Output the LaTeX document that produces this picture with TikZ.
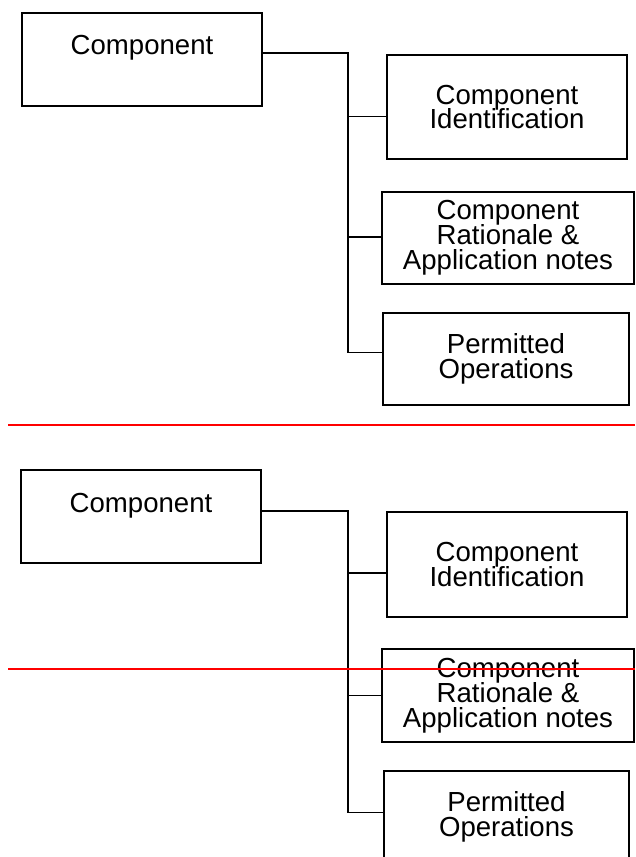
\documentclass[tikz,border=0pt]{standalone}
\usepackage{fontspec}
\setmainfont{Liberation Sans}
\usetikzlibrary{calc}
\lineskiplimit=-6pt

\begin{document}
\begin{tikzpicture}[
  x=0.02cm, y=0.02cm,
  font=\fontsize{15.7pt}{14.2pt}\selectfont,
  box/.style={draw, line width=1pt, inner sep=0pt, align=center},
  head/.style={box, text width=4.8cm, text height=0.84cm, text depth=1.02cm},
  link/.style={line width=0.8pt},
  cut/.style={draw=red, line width=1.5pt}
]
\useasboundingbox (0,0) rectangle (635,-857);
\clip (0,0) rectangle (635,-857);
% upper copy
\node[head] (comp) at (142,-59.5) {Component};
\node[box, minimum width=4.8cm, minimum height=2.08cm] (ident) at (507,-107)
  {Component\\Identification};
\node[box, minimum width=5.04cm, minimum height=1.84cm] (rat) at (508,-238)
  {Component\\Rationale \&\\Application notes};
\node[box, minimum width=4.92cm, minimum height=1.84cm] (perm) at (506,-359)
  {Permitted\\Operations};
\coordinate (trunk) at (348,0);
\coordinate (compout) at ($(comp.north east)!0.43!(comp.south east)$);
\coordinate (identin) at ($(ident.north west)!0.59!(ident.south west)$);
\coordinate (ratin) at ($(rat.north west)!0.49!(rat.south west)$);
\coordinate (permin) at ($(perm.north west)!0.43!(perm.south west)$);
\draw[link] (compout) -| (trunk |- permin) -- (permin);
\draw[link] (trunk |- identin) -- (identin);
\draw[link] (trunk |- ratin) -- (ratin);
\draw[cut] (8,-425) -- (635,-425);
% lower copy
\node[head] (comp2) at (141,-516.5) {Component};
\node[box, minimum width=4.8cm, minimum height=2.1cm] (ident2) at (507,-564.5)
  {Component\\Identification};
\node[box, minimum width=5.04cm, minimum height=1.86cm] (rat2) at (508,-695.5)
  {Component\\Rationale \&\\Application notes};
\node[box, minimum width=4.9cm, minimum height=1.84cm] (perm2) at (506.5,-817)
  {Permitted\\Operations};
\coordinate (trunk2) at (348,0);
\coordinate (compout2) at ($(comp2.north east)!0.44!(comp2.south east)$);
\coordinate (identin2) at ($(ident2.north west)!0.58!(ident2.south west)$);
\coordinate (ratin2) at ($(rat2.north west)!0.5!(rat2.south west)$);
\coordinate (permin2) at ($(perm2.north west)!0.45!(perm2.south west)$);
\draw[link] (compout2) -| (trunk2 |- permin2) -- (permin2);
\draw[link] (trunk2 |- identin2) -- (identin2);
\draw[link] (trunk2 |- ratin2) -- (ratin2);
\draw[cut] (8,-669) -- (635,-669);
\end{tikzpicture}
\end{document}
